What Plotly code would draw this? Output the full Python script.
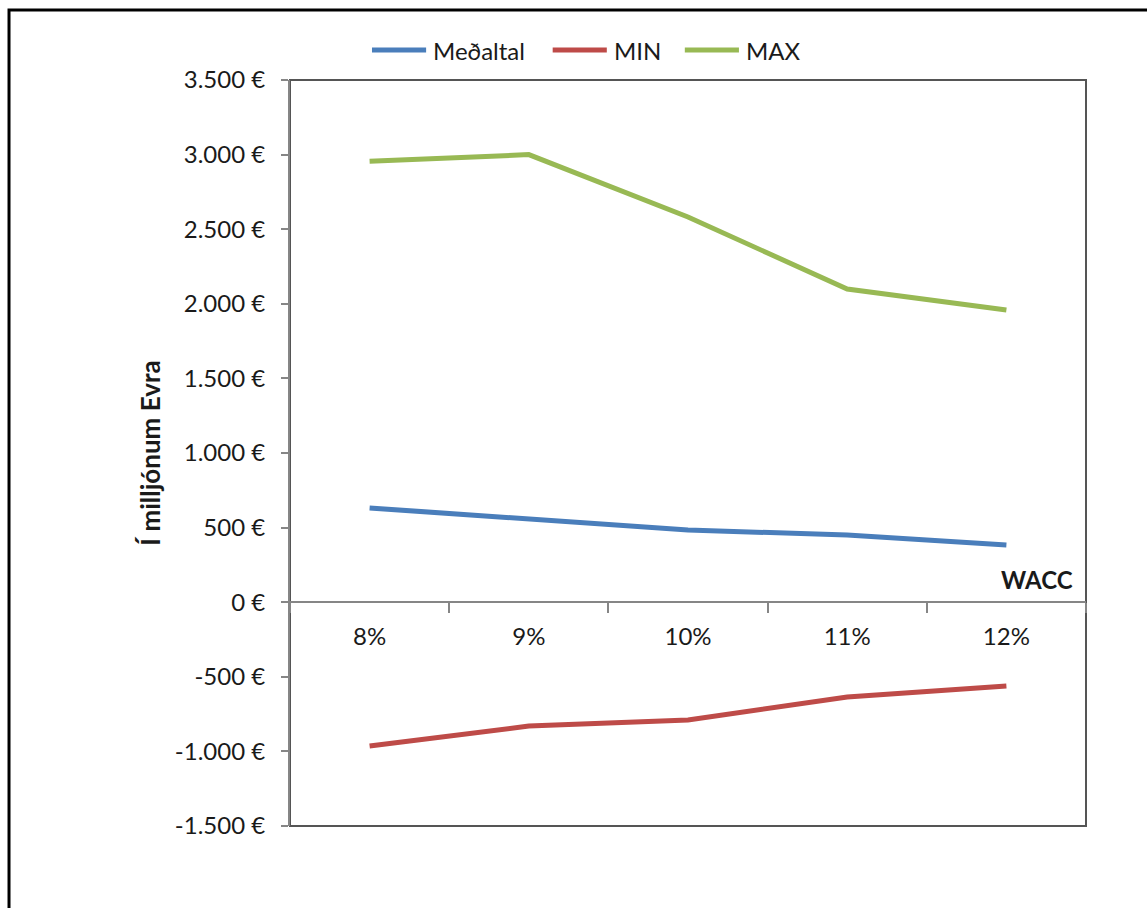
import plotly.graph_objects as go

# WACC scenarios and valuation results (million EUR)
wacc = ["8%", "9%", "10%", "11%", "12%"]
medaltal = [632, 557, 484, 450, 383]
min_vals = [-964, -830, -790, -635, -562]
max_vals = [2955, 3000, 2582, 2099, 1958]

y_ticks = [-1500, -1000, -500, 0, 500, 1000, 1500, 2000, 2500, 3000, 3500]
y_tick_text = ["-1.500 €", "-1.000 €", "-500 €", "0 €", "500 €", "1.000 €",
               "1.500 €", "2.000 €", "2.500 €", "3.000 €", "3.500 €"]

FONT = "Lato"
TEXT = "#1a1a1a"
SIZE = 24

fig = go.Figure()
series = [
    ("Meðaltal", medaltal, "#4A7EBB"),
    ("MIN", min_vals, "#BE4B48"),
    ("MAX", max_vals, "#98B954"),
]
for name, vals, color in series:
    fig.add_trace(go.Scatter(
        x=wacc, y=vals, name=name, mode="lines",
        line=dict(color=color, width=5),
        showlegend=False,
    ))

# legend row above the plot area: line key + label per series
legend_x = [0.103, 0.330, 0.496]
key_len = 0.068
for (name, _, color), lx in zip(series, legend_x):
    fig.add_shape(type="line", xref="paper", yref="paper",
                  x0=lx, x1=lx + key_len, y0=1.0402, y1=1.0402,
                  line=dict(color=color, width=5))
    fig.add_annotation(text=name, xref="paper", yref="paper",
                       x=lx + key_len + 0.006, y=1.0402,
                       xanchor="left", yanchor="middle", showarrow=False,
                       font=dict(family=FONT, size=SIZE, color=TEXT))

# frame of the plot area
fig.add_shape(type="rect", xref="paper", yref="paper", x0=0, x1=1, y0=0, y1=1,
              line=dict(color="#555555", width=2), layer="below")
# outer chart border
fig.add_shape(type="rect", xref="paper", yref="paper",
              x0=-0.353, x1=1.09, y0=-0.13, y1=1.094,
              line=dict(color="#000000", width=3))

fig.add_annotation(text="<b>WACC</b>", xref="paper", yref="y", x=1, y=0,
                   xanchor="right", yanchor="bottom", xshift=-11, yshift=6,
                   showarrow=False, font=dict(family=FONT, size=SIZE, color=TEXT))

fig.update_layout(
    width=1147, height=908,
    margin=dict(l=290, r=61, t=80, b=82),
    paper_bgcolor="white", plot_bgcolor="white",
    font=dict(family=FONT, size=SIZE, color=TEXT),
    showlegend=False,
    xaxis=dict(
        type="category", anchor="free", position=0.3,
        showline=True, linecolor="#868686", linewidth=2,
        ticks="outside", ticklen=10, tickcolor="#868686", tickwidth=1.5,
        tickson="boundaries", showgrid=False, zeroline=False,
        ticklabelstandoff=13,
        tickfont=dict(family=FONT, size=SIZE, color=TEXT),
        range=[-0.5, 4.5],
    ),
    yaxis=dict(
        range=[-1500, 3500], tickvals=y_ticks, ticktext=y_tick_text,
        showline=True, linecolor="#868686", linewidth=2,
        ticks="outside", ticklen=7, tickcolor="#868686", tickwidth=1.5,
        showgrid=False, zeroline=False,
        ticklabelstandoff=11,
        tickfont=dict(family=FONT, size=SIZE, color=TEXT),
        title=dict(text="<b>Í milljónum Evra</b>", standoff=7,
                   font=dict(family=FONT, size=26, color=TEXT)),
    ),
)

fig.write_html("out.html")
